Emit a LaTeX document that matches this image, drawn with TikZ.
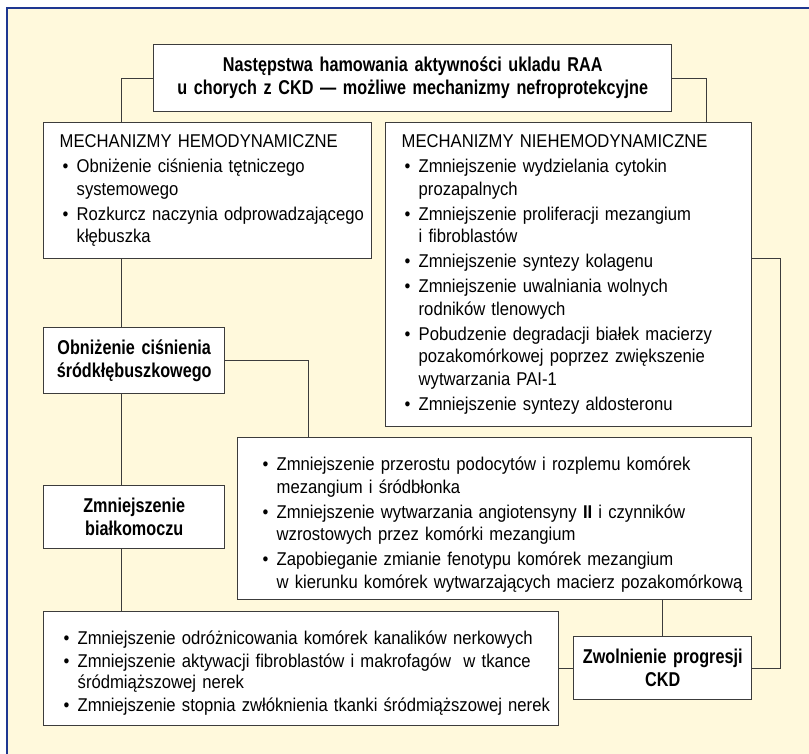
\documentclass[tikz,border=0pt]{standalone}
\usepackage{fontspec}
\setmainfont{Liberation Sans}
\newfontfamily\rfont{Liberation Sans}[FakeStretch=0.9]
\newfontfamily\bfont{Liberation Sans}[FakeStretch=0.81]
\usetikzlibrary{calc}
\definecolor{bgyellow}{RGB}{255,249,220}
\definecolor{frameblue}{RGB}{30,55,145}
\definecolor{linegray}{RGB}{60,60,60}
\newcommand\nl{\hfil\break}
\newcommand\itm[1]{\par\hangindent=17pt\hangafter=1\hspace*{3pt}\makebox[14pt][l]{•}#1\par}
\begin{document}
\begin{tikzpicture}[x=1pt,y=-1pt,
  box/.style={draw=linegray, line width=1.4pt, fill=white, inner sep=0pt, anchor=north west},
  listbox/.style={box, align=left, font={\rfont\fontsize{18.5}{22.5}\selectfont}},
  boldbox/.style={box, align=center, font={\bfont\bfseries\fontsize{20}{23}\selectfont}},
  conn/.style={draw=linegray, line width=1pt}]
\useasboundingbox (0,0) rectangle (809,753);
\fill[white] (0,0) rectangle (809,753);
\begin{scope}
\clip (0,0) rectangle (809,753);
\draw[frameblue, line width=2pt, fill=bgyellow] (7,7.8) rectangle (830,780);
\end{scope}

\node[boldbox, text width=518pt, minimum height=67pt] (title) at (153,44)
  {Następstwa hamowania aktywności ukladu RAA\\u chorych z CKD — możliwe mechanizmy nefroprotekcyjne};

\node[listbox, text width=328pt, minimum height=136pt] (hemo) at (43,122)
  {\leftskip=16pt\parskip=2.5pt\relax
   MECHANIZMY HEMODYNAMICZNE\par
   \itm{Obniżenie ciśnienia tętniczego\nl systemowego}
   \itm{Rozkurcz naczynia odprowadzającego\nl kłębuszka}};

\node[listbox, text width=366pt, minimum height=304pt] (nh) at (385,122)
  {\leftskip=16pt\parskip=2.5pt\relax
   MECHANIZMY NIEHEMODYNAMICZNE\par
   \itm{Zmniejszenie wydzielania cytokin\nl prozapalnych}
   \itm{Zmniejszenie proliferacji mezangium\nl i fibroblastów}
   \itm{Zmniejszenie syntezy kolagenu}
   \itm{Zmniejszenie uwalniania wolnych\nl rodników tlenowych}
   \itm{Pobudzenie degradacji białek macierzy\nl pozakomórkowej poprzez zwiększenie\nl wytwarzania PAI-1}
   \itm{Zmniejszenie syntezy aldosteronu}};

\node[boldbox, text width=181pt, minimum height=66pt] (obn) at (43,327)
  {Obniżenie ciśnienia\\śródkłębuszkowego};

\node[boldbox, text width=181pt, minimum height=63pt] (bial) at (43,485)
  {Zmniejszenie\\białkomoczu};

\node[listbox, text width=514pt, minimum height=162pt] (mid) at (237,437)
  {\leftskip=22pt\parskip=2.5pt\relax
   \itm{Zmniejszenie przerostu podocytów i rozplemu komórek\nl mezangium i śródbłonka}
   \itm{Zmniejszenie wytwarzania angiotensyny {\bfseries II} i czynników\nl wzrostowych przez komórki mezangium}
   \itm{Zapobieganie zmianie fenotypu komórek mezangium\nl w kierunku komórek wytwarzających macierz pozakomórkową}};

\node[listbox, text width=515pt, minimum height=114pt, font={\rfont\fontsize{18.5}{21.5}\selectfont}] (bot) at (43,611)
  {\leftskip=17pt\parskip=1pt\relax
   \itm{Zmniejszenie odróżnicowania komórek kanalików nerkowych}
   \itm{Zmniejszenie aktywacji fibroblastów i makrofagów~ w tkance\nl śródmiąższowej nerek}
   \itm{Zmniejszenie stopnia zwłóknienia tkanki śródmiąższowej nerek}};

\node[boldbox, text width=178pt, minimum height=63pt] (zwol) at (573,636)
  {Zwolnienie progresji\\CKD};

\coordinate (nhr) at ([yshift=-136pt]nh.north east);

\draw[conn] (title.west) -| ([xshift=78pt]hemo.north west);
\draw[conn] (title.east) -| ([xshift=321pt]nh.north west);
\draw[conn] ([xshift=78pt]hemo.south west) -- ([xshift=78pt]obn.north west);
\draw[conn] (obn.east) -| ([xshift=71pt]mid.north west);
\draw[conn] ([xshift=78pt]obn.south west) -- ([xshift=78pt]bial.north west);
\draw[conn] ([xshift=78pt]bial.south west) -- ([xshift=78pt]bot.north west);
\draw[conn] (mid.south -| zwol.north) -- (zwol.north);
\draw[conn] (bot.east) -- (bot.east -| zwol.west);
\draw[conn] (zwol.east) -| ([xshift=28pt]nhr) -- (nhr);
\end{tikzpicture}
\end{document}
